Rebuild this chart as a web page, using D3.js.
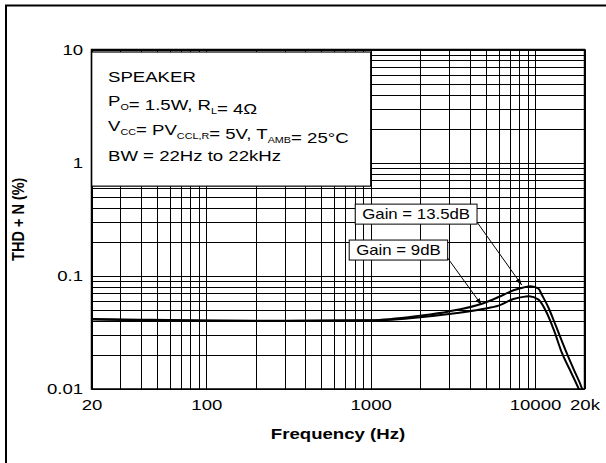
<!DOCTYPE html>
<html>
<head>
<meta charset="utf-8">
<script src="https://cdn.jsdelivr.net/npm/d3@7"></script>
<style>
  body { margin: 0; background: #fff; }
  svg { display: block; }
  text { font-family: "Liberation Sans", Arial, Helvetica, sans-serif; fill: #000; }
</style>
</head>
<body>
<svg id="chart" width="606" height="463"></svg>
<script>
// Gain = 13.5dB curve
const freq135 = [20, 40, 100, 300, 1000, 2000, 3000, 4800, 6000, 7400, 8500, 9400, 10500, 11000, 12100, 13300, 15300, 17300, 19300, 20000];
const thd135  = [0.0415, 0.041, 0.0403, 0.040, 0.0405, 0.0445, 0.0485, 0.057, 0.065, 0.0745, 0.079, 0.081, 0.077, 0.068, 0.052, 0.037, 0.0222, 0.0146, 0.0101, 0.0085];
// Gain = 9dB curve
const freq9 = [20, 40, 100, 300, 1000, 2000, 3000, 4800, 6000, 7400, 8700, 9200, 10500, 11800, 13000, 14600, 16500, 18400, 20000];
const thd9  = [0.0412, 0.0405, 0.040, 0.0398, 0.0402, 0.043, 0.046, 0.051, 0.0545, 0.0625, 0.0655, 0.066, 0.0616, 0.047, 0.0334, 0.0207, 0.0142, 0.0101, 0.0075];

const xTickVals = [20, 100, 1000, 10000, 20000];
const xTickLabels = ["20", "100", "1000", "10000", "20k"];
const yTickVals = [0.01, 0.1, 1, 10];
const yTickLabels = ["0.01", "0.1", "1", "10"];

// annotations: label, box centre (freq, thd), arrow tip (freq, thd)
const annLabels = ["Gain = 13.5dB", "Gain = 9dB"];
const annBoxFreq = [1890, 1475];
const annBoxThd = [0.351, 0.169];
const annTipFreq = [8300, 4730];
const annTipThd = [0.083, 0.0552];

const SX = 1.2; // the scanned datasheet text is horizontally stretched

const svg = d3.select("#chart");
const plot = { left: 91.5, right: 584.5, top: 49.5, bottom: 389 };

const x = d3.scaleLog().domain([20, 20000]).range([plot.left, plot.right]);
const y = d3.scaleLog().domain([0.01, 10]).range([plot.bottom, plot.top]);

// outer frame (runs off the right and bottom of the picture)
svg.append("path")
    .attr("d", "M6,470 V5.5 H620")
    .attr("fill", "none").attr("stroke", "#000").attr("stroke-width", 2);

// grid
const grid = svg.append("g").attr("stroke", "#000").attr("stroke-width", 1);
grid.selectAll(".vx").data(x.ticks()).enter().append("line")
    .attr("x1", d => Math.round(x(d)) + 0.5).attr("x2", d => Math.round(x(d)) + 0.5)
    .attr("y1", plot.top).attr("y2", plot.bottom);
grid.selectAll(".hy").data(y.ticks()).enter().append("line")
    .attr("y1", d => Math.round(y(d)) + 0.5).attr("y2", d => Math.round(y(d)) + 0.5)
    .attr("x1", plot.left).attr("x2", plot.right);

// conditions box (hides the grid behind it)
const boxR = x(1000), boxB = y(0.62);
svg.append("rect")
    .attr("x", plot.left).attr("y", plot.top + 2.5)
    .attr("width", boxR - plot.left).attr("height", boxB - plot.top - 2.5)
    .attr("fill", "#fff").attr("stroke", "#000").attr("stroke-width", 1.2);

function stretchedText(parent, px, py, size, weight) {
    return parent.append("g")
        .attr("transform", `translate(${px},${py}) scale(${SX},1)`)
        .append("text")
        .style("font-size", size + "px")
        .style("font-weight", weight || "normal");
}

// conditions text, parts are [text, isSubscript]
const condLines = [
    [["SPEAKER", false]],
    [["P", false], ["O", true], ["= 1.5W, R", false], ["L", true], ["= 4Ω", false]],
    [["V", false], ["CC", true], ["= PV", false], ["CCL,R", true], ["= 5V, T", false], ["AMB", true], ["= 25°C", false]],
    [["BW = 22Hz to 22kHz", false]]
];
const condBase = [82, 106, 131, 161];
condLines.forEach((parts, i) => {
    const t = stretchedText(svg, 108, condBase[i], 15.5);
    parts.forEach(([s, sub]) => {
        t.append("tspan")
            .attr("dy", sub ? 4 : 0)
            .style("font-size", sub ? "9px" : "15.5px")
            .text(s);
        if (sub) t.append("tspan").attr("dy", -4).text("");
    });
});

// curves
svg.append("clipPath").attr("id", "clip").append("rect")
    .attr("x", plot.left).attr("y", plot.top)
    .attr("width", plot.right - plot.left).attr("height", plot.bottom - plot.top);

const line = d3.line()
    .x(d => x(d[0])).y(d => y(d[1]))
    .curve(d3.curveMonotoneX);

[[freq135, thd135], [freq9, thd9]].forEach(([f, v]) => {
    svg.append("path")
        .datum(f.map((d, i) => [d, v[i]]))
        .attr("clip-path", "url(#clip)")
        .attr("d", line)
        .attr("fill", "none").attr("stroke", "#000").attr("stroke-width", 2);
});

// plot frame
svg.append("rect")
    .attr("x", plot.left).attr("y", plot.top)
    .attr("width", plot.right - plot.left).attr("height", plot.bottom - plot.top)
    .attr("fill", "none").attr("stroke", "#000").attr("stroke-width", 1.5);

// axes (labels only)
const xAxis = svg.append("g")
    .attr("transform", `translate(0,${plot.bottom})`)
    .call(d3.axisBottom(x).tickValues(xTickVals).tickFormat((d, i) => xTickLabels[i]).tickSize(0).tickPadding(10));
const yAxis = svg.append("g")
    .attr("transform", `translate(${plot.left},0)`)
    .call(d3.axisLeft(y).tickValues(yTickVals).tickFormat((d, i) => yTickLabels[i]).tickSize(0).tickPadding(7));
[xAxis, yAxis].forEach(a => {
    a.select(".domain").remove();
    a.selectAll("text")
        .attr("transform", `scale(${SX},1)`)
        .style("font-size", "15.5px")
        .style("font-family", "'Liberation Sans', Arial, sans-serif");
});

// axis titles
stretchedText(svg, (plot.left + plot.right) / 2, 439, 15.5, "bold")
    .attr("text-anchor", "middle").text("Frequency (Hz)");
svg.append("g")
    .attr("transform", `translate(24,${(plot.top + plot.bottom) / 2}) scale(${SX},1) rotate(-90)`)
    .append("text")
    .attr("text-anchor", "middle")
    .style("font-size", "14.5px").style("font-weight", "bold")
    .text("THD + N (%)");

// annotation boxes with arrows
svg.append("defs").append("marker")
    .attr("id", "arr").attr("viewBox", "0 0 10 10")
    .attr("refX", 10).attr("refY", 5)
    .attr("markerWidth", 7).attr("markerHeight", 7)
    .attr("orient", "auto-start-reverse")
    .append("path").attr("d", "M0,1.5 L10,5 L0,8.5 Z").attr("fill", "#000");

annLabels.forEach((lab, i) => {
    const cx = x(annBoxFreq[i]), cy = y(annBoxThd[i]);
    const g = svg.append("g");
    const t = stretchedText(g, cx, cy + 5, 14).attr("text-anchor", "middle").text(lab);
    const w = t.node().getComputedTextLength() * SX + 14;
    const h = 20;
    g.insert("rect", ":first-child")
        .attr("x", cx - w / 2).attr("y", cy - h / 2)
        .attr("width", w).attr("height", h)
        .attr("fill", "#fff").attr("stroke", "#000").attr("stroke-width", 1);
    svg.append("line")
        .attr("x1", cx + w / 2).attr("y1", cy + h / 2 - 2)
        .attr("x2", x(annTipFreq[i])).attr("y2", y(annTipThd[i]))
        .attr("stroke", "#000").attr("stroke-width", 1)
        .attr("marker-end", "url(#arr)");
});
</script>
</body>
</html>
